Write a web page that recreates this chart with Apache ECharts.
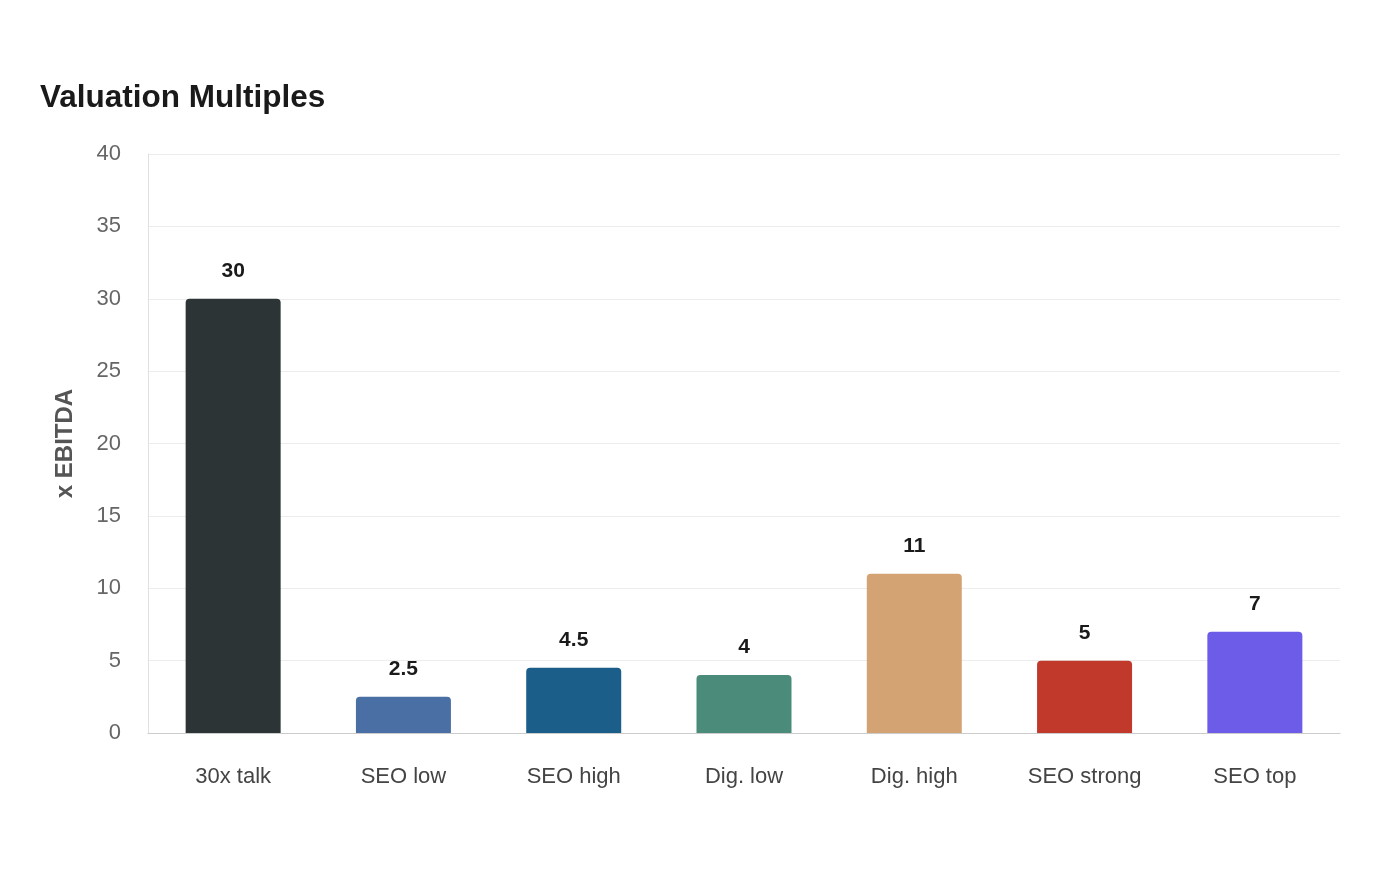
<!DOCTYPE html>
<html>
<head>
<meta charset="utf-8">
<script src="https://cdn.jsdelivr.net/npm/echarts@6/dist/echarts.min.js"></script>
<style>
  html, body { margin: 0; padding: 0; background: #fff; }
  #chart { width: 1400px; height: 880px; }
</style>
</head>
<body>
<div id="chart"></div>
<script>
// categories and values
var categories = ['30x talk', 'SEO low', 'SEO high', 'Dig. low', 'Dig. high', 'SEO strong', 'SEO top'];
var multiples = [30, 2.5, 4.5, 4, 11, 5, 7];
var barColors = ['#2d3436', '#4a6fa5', '#1b5e8a', '#4b8b79', '#d4a373', '#c0392b', '#6c5ce7'];

var font = '"Liberation Sans", Arial, sans-serif';

var myChart = echarts.init(document.getElementById('chart'));
myChart.setOption({
    animation: false,
    textStyle: { fontFamily: font },
    title: {
        text: 'Valuation Multiples',
        left: 35,
        top: 77,
        textStyle: { fontFamily: font, fontSize: 31.5, fontWeight: 'bold', color: '#1a1a1a' }
    },
    grid: {
        left: 148,
        right: 60,
        top: 154,
        bottom: 147
    },
    xAxis: {
        type: 'category',
        data: categories,
        axisTick: { show: false },
        axisLine: { lineStyle: { color: '#cccccc', width: 1 } },
        axisLabel: { fontFamily: font, color: '#444', fontSize: 22, margin: 33 }
    },
    yAxis: {
        type: 'value',
        min: 0,
        max: 40,
        interval: 5,
        name: 'x EBITDA',
        nameLocation: 'middle',
        nameGap: 71,
        nameTextStyle: { fontFamily: font, color: '#555', fontSize: 24, fontWeight: 'bold' },
        axisLine: { show: true, lineStyle: { color: '#e0e0e0' } },
        axisTick: { show: false },
        axisLabel: { fontFamily: font, color: '#666', fontSize: 22, margin: 27 },
        splitLine: { lineStyle: { color: '#ececec' } }
    },
    series: [{
        type: 'bar',
        barWidth: 95,
        data: multiples.map(function (v, i) {
            return { value: v, itemStyle: { color: barColors[i], borderRadius: [4, 4, 0, 0] } };
        }),
        label: {
            show: true,
            position: 'top',
            distance: 17,
            fontFamily: font,
            color: '#1a1a1a',
            fontSize: 21,
            fontWeight: 'bold'
        }
    }]
});
</script>
</body>
</html>
